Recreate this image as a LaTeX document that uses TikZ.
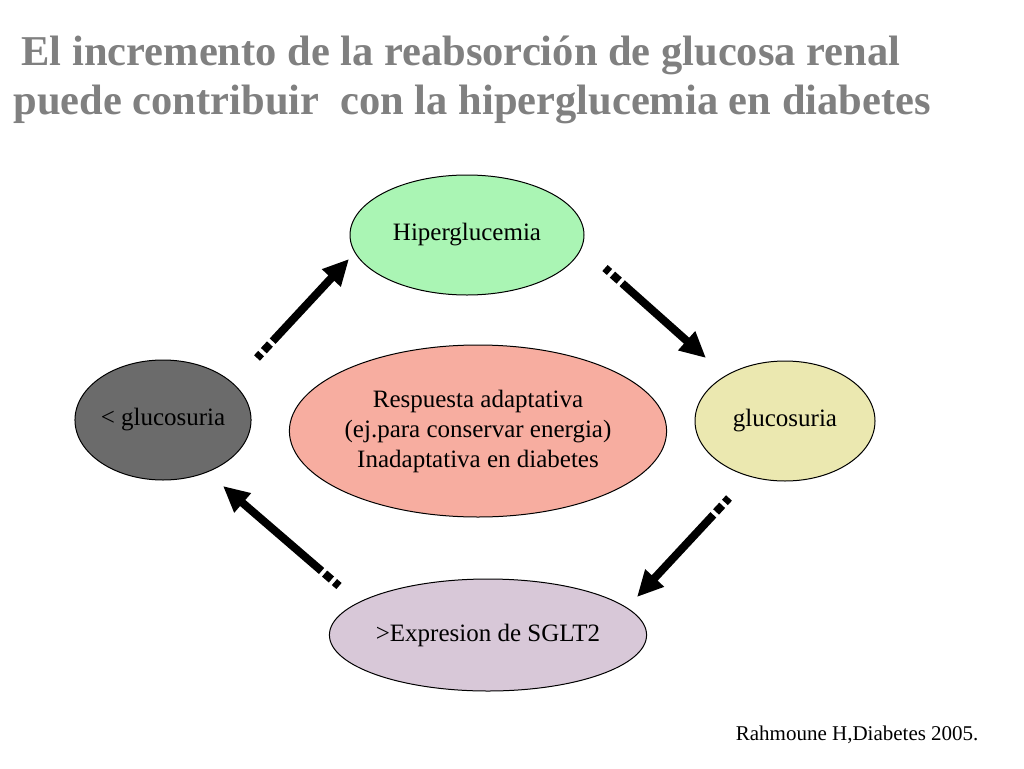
\documentclass[tikz,border=0pt]{standalone}
\usepackage{fontspec}
\setmainfont{Liberation Serif}
\usetikzlibrary{arrows.meta,shapes.geometric}
\begin{document}
\begin{tikzpicture}[x=1pt,y=-1pt,
 el/.style={draw,line width=1pt,ellipse,inner sep=0pt,font=\fontsize{25}{30}\selectfont,align=center},
 arr/.style={line width=8pt,dash pattern=on 6pt off 4pt on 9pt off 4pt on 300pt,-{Triangle[length=26pt,width=24pt]}},
 ttl/.style={anchor=base west,font=\bfseries\fontsize{42.5}{46}\selectfont,text=black!50}]
\useasboundingbox (0,0) rectangle (1024,768);
\node[ttl] (t1) at (18,66) {El incremento de la reabsorción de glucosa renal};
\node[ttl] (t2) at (10,114) {puede contribuir\ \ con la hiperglucemia en diabetes};
\node[el,fill={rgb,255:red,170;green,245;blue,180},minimum width=234pt,minimum height=120pt] (h) at (467,235) {Hiperglucemia};
\node[el,fill={rgb,255:red,235;green,232;blue,176},minimum width=180pt,minimum height=120pt] (g) at (785,421) {glucosuria};
\node[el,fill={rgb,255:red,107;green,107;blue,107},minimum width=174pt,minimum height=120pt] (lg) at (163,420) {< glucosuria};
\node[el,fill={rgb,255:red,247;green,173;blue,160},minimum width=324pt,minimum height=172pt] (c) at (478,431) {Respuesta adaptativa\\(ej.para conservar energia)\\Inadaptativa en diabetes};
\node[el,fill={rgb,255:red,216;green,200;blue,216},minimum width=244pt,minimum height=112pt] (s) at (488,635) {>Expresion de SGLT2};
\node[anchor=base east,font=\fontsize{21}{25}\selectfont] (ref) at (982,740) {Rahmoune H,Diabetes 2005.};
\coordinate (a1) at (605,268); \coordinate (b1) at (706,358);
\coordinate (a2) at (729,498); \coordinate (b2) at (637,597);
\coordinate (a3) at (339,586); \coordinate (b3) at (223,486);
\coordinate (a4) at (257,358); \coordinate (b4) at (349,259);
\draw[arr] (a1) -- (b1);
\draw[arr] (a2) -- (b2);
\draw[arr] (a3) -- (b3);
\draw[arr] (a4) -- (b4);
\end{tikzpicture}
\end{document}
